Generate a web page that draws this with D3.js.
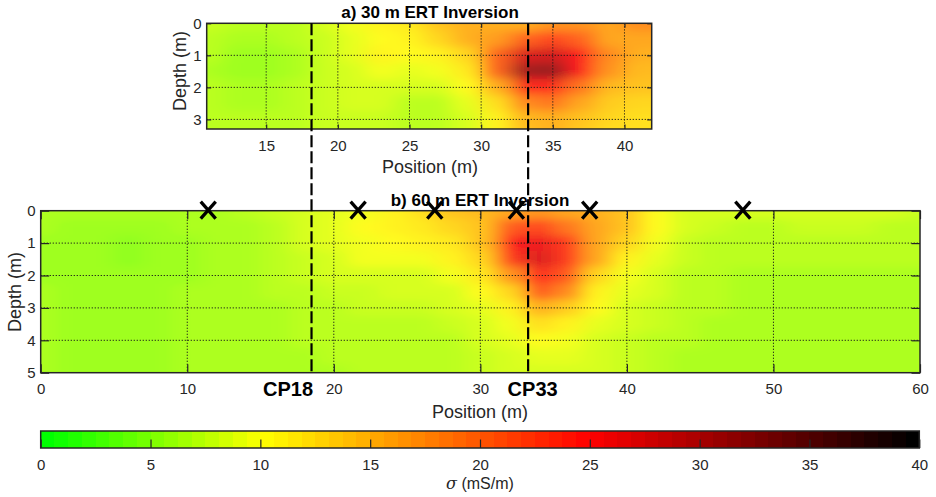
<!DOCTYPE html>
<html><head><meta charset="utf-8">
<script src="https://cdn.jsdelivr.net/npm/d3@7/dist/d3.min.js"></script>
<style>
body{margin:0;background:#fff}
text{font-family:"Liberation Sans",Arial,Helvetica,sans-serif}
</style>
</head><body>
<svg id="c" width="936" height="497"></svg>
<script>
// ---------------- DATA ----------------
// Panel a) 30 m ERT inversion: conductivity (mS/m) at nodes
const posNodesA = [11,13,15,17,19,21,23,25,27,29,31,33,35,37,39,41];
const depthNodesA = [0,0.5,1,1.5,2,2.5,3,3.5];
const sigmaA = [
  [7.5,7.2,7.0,7.3,8.0,9.5,10.5,11.5,14.0,15.5,15.0,15.5,17.0,17.0,16.0,18.0],
  [7.0,6.5,6.3,6.7,7.8,9.0,10.0,10.5,13.0,15.0,16.5,20.0,22.0,20.0,16.0,16.0],
  [6.8,6.0,5.8,6.5,7.8,9.0,10.5,10.0,11.0,13.0,20.0,27.0,28.0,25.0,17.5,15.0],
  [6.6,6.0,6.0,6.5,7.5,8.5,9.5,9.0,9.5,11.5,20.0,31.0,32.0,25.0,17.0,14.5],
  [6.8,6.3,6.3,6.7,7.5,8.0,8.5,8.0,8.0,10.0,15.0,24.0,24.0,19.0,14.5,14.0],
  [7.0,6.5,6.5,7.0,7.5,8.0,8.0,7.2,7.0,9.0,12.0,18.0,19.0,16.0,13.5,13.0],
  [7.0,6.7,6.7,7.0,7.5,7.8,7.5,6.8,6.8,8.3,10.5,14.5,15.5,14.0,12.5,12.0],
  [7.0,6.7,6.7,7.0,7.5,7.8,7.5,6.8,6.8,8.3,10.5,14.0,15.0,13.5,12.0,12.0]
];
// Panel b) 60 m ERT inversion
const posNodesB = [0,2,4,6,8,10,12,14,16,18,20,22,24,26,28,30,32,34,36,38,40,42,44,46,48,50,52,54,56,58,60];
const depthNodesB = [0,0.5,1,1.5,2,2.5,3,3.5,4,4.5,5];
const sigmaB = [
  [6.5,6.5,6.3,6.3,6.3,6.5,6.5,6.8,7.5,8.5,8.7,9.5,10.5,12,14,14.5,16,17,16,15,14,10,8.5,8,8,8,8,8.5,8.5,8,7.5],
  [6.3,6.0,5.8,5.8,6.0,6.2,6.3,6.5,7.3,8.3,9.0,10.0,10.5,11.5,13,14,21,22,19,16,14,10,8.0,7.5,7.3,7.3,7.5,7.5,7.5,7.3,7.0],
  [6.0,5.7,5.5,5.3,5.6,6.0,6.2,6.4,7.0,8.0,8.8,9.8,10.0,10.5,11.5,14,25,26,23,16,12.5,9.5,7.8,7.2,7.0,7.0,7.0,7.0,7.0,7.0,7.0],
  [6.0,5.6,5.4,5.3,5.5,6.0,6.2,6.4,6.9,7.8,8.5,9.5,9.5,9.5,10.5,13,23,27,23,16,11,9.0,7.5,7.0,6.8,6.8,6.8,6.8,6.8,6.8,6.8],
  [6.0,5.8,5.6,5.5,5.7,6.0,6.3,6.5,6.8,7.5,8.0,8.5,8.5,8.5,9.5,11.5,17,24,21,13,9.5,8.3,7.3,6.8,6.6,6.6,6.6,6.6,6.6,6.6,6.6],
  [6.1,5.9,5.8,5.7,5.8,6.1,6.3,6.5,6.7,7.2,7.6,7.9,8.0,8.0,8.5,10.0,12.5,21,18,11,9.0,8.0,7.2,6.8,6.6,6.5,6.5,6.5,6.5,6.5,6.5],
  [6.2,6.0,5.9,5.8,5.9,6.1,6.3,6.4,6.6,7.0,7.3,7.5,7.5,7.6,8.0,9.0,10.5,15,13.5,10,8.3,7.7,7.0,6.7,6.5,6.4,6.4,6.4,6.4,6.4,6.4],
  [6.2,6.0,5.9,5.9,6.0,6.1,6.3,6.4,6.5,6.8,7.0,7.2,7.2,7.3,7.5,8.3,9.5,12,10.5,9.0,8.0,7.5,6.9,6.6,6.4,6.3,6.3,6.3,6.3,6.3,6.3],
  [6.2,6.0,5.9,5.9,6.0,6.1,6.3,6.4,6.5,6.7,6.8,7.0,7.0,7.1,7.3,8.0,9.0,10,9.5,8.5,7.8,7.3,6.8,6.5,6.3,6.2,6.2,6.2,6.2,6.2,6.2],
  [6.2,6.0,5.9,5.9,6.0,6.1,6.3,6.4,6.5,6.6,6.7,6.8,6.8,6.9,7.0,7.7,8.5,9.0,8.8,8.2,7.5,7.0,6.6,6.4,6.2,6.1,6.1,6.1,6.1,6.1,6.1],
  [6.2,6.0,5.9,5.9,6.0,6.1,6.3,6.4,6.5,6.6,6.6,6.7,6.7,6.8,7.0,7.5,8.0,8.5,8.5,8.0,7.5,7.0,6.6,6.3,6.2,6.1,6.1,6.1,6.1,6.1,6.1]
];
const markerPositions = [11.43,21.66,26.89,32.46,37.46,47.91];
const checkpointLabels = ["CP18","CP33"];
const checkpointPositions = [18.48,33.26];
const ticksAx = [15,20,25,30,35,40];
const ticksAy = [0,1,2,3];
const ticksBx = [0,10,20,30,40,50,60];
const ticksBy = [0,1,2,3,4,5];
const colorTicks = [0,5,10,15,20,25,30,35,40];
const colorStops = [0,10,25,40];

// ---------------- SETUP ----------------
const svg = d3.select("#c");
const defs = svg.append("defs");
const cmap = d3.scaleLinear().domain(colorStops)
  .range(["#00ff00","#ffff00","#ff0000","#000000"]).clamp(true);
const nLevels = 64;
const quant = v => cmap(Math.round(Math.max(0,Math.min(40,v))/40*(nLevels-1))*40/(nLevels-1));
const INK = "#262626";
const fmt = d3.format("d");

const xA = d3.scaleLinear().domain([10.85,41.9]).range([206.7,651.7]);
const yA = d3.scaleLinear().domain([0,3.3]).range([23.3,129]);
const xB = d3.scaleLinear().domain([0,60]).range([40.7,920]);
const yB = d3.scaleLinear().domain([0,5]).range([210.7,372.7]);
const xC = d3.scaleLinear().domain([0,40]).range([40.7,919.3]);

function heat(id, xs, ys, xN, yN, grid, sd) {
  const [x0,x1] = xs.domain(), [y0,y1] = ys.domain();
  defs.append("clipPath").attr("id","clip"+id).append("rect")
    .attr("x",xs(x0)).attr("y",ys(y0)).attr("width",xs(x1)-xs(x0)).attr("height",ys(y1)-ys(y0));
  defs.append("filter").attr("id","blur"+id).attr("x","-20%").attr("y","-20%").attr("width","140%").attr("height","140%")
    .append("feGaussianBlur").attr("stdDeviation",sd);
  const cells = [];
  grid.forEach((row,j)=>row.forEach((v,i)=>{
    const l = i===0 ? x0-6 : (xN[i-1]+xN[i])/2;
    const r = i===xN.length-1 ? x1+6 : (xN[i]+xN[i+1])/2;
    const t = j===0 ? y0-1.5 : (yN[j-1]+yN[j])/2;
    const b = j===yN.length-1 ? y1+1.5 : (yN[j]+yN[j+1])/2;
    cells.push({l,r,t,b,v});
  }));
  svg.append("g").attr("clip-path",`url(#clip${id})`)
    .append("g").attr("filter",`url(#blur${id})`).attr("opacity",0.88)
    .selectAll("rect").data(cells).join("rect")
    .attr("x",d=>xs(d.l)).attr("y",d=>ys(d.t))
    .attr("width",d=>xs(d.r)-xs(d.l)+0.5).attr("height",d=>ys(d.b)-ys(d.t)+0.5)
    .attr("fill",d=>quant(d.v)).attr("shape-rendering","crispEdges");
}

function grid(xs, ys, gx, gy) {
  const g = svg.append("g").attr("stroke","#1a1a1a").attr("stroke-width",1).attr("stroke-dasharray","1.2 1.8").attr("fill","none");
  g.selectAll(".gx").data(gx).join("line").attr("x1",d=>xs(d)).attr("x2",d=>xs(d)).attr("y1",ys.range()[0]).attr("y2",ys.range()[1]);
  g.selectAll(".gy").data(gy).join("line").attr("y1",d=>ys(d)).attr("y2",d=>ys(d)).attr("x1",xs.range()[0]).attr("x2",xs.range()[1]);
}

function styleAxis(sel, showText) {
  sel.select(".domain").remove();
  sel.selectAll(".tick line").attr("stroke",INK).attr("stroke-width",1.2);
  sel.selectAll(".tick text").attr("fill",INK).attr("font-size",15)
    .attr("font-family","'Liberation Sans',Arial,sans-serif");
  if(!showText) sel.selectAll(".tick text").remove();
}

function axes(xs, ys, tx, ty, tlen) {
  const [xl,xr] = xs.range(), [yt,yb] = ys.range();
  styleAxis(svg.append("g").attr("transform",`translate(0,${yb})`)
    .call(d3.axisBottom(xs).tickValues(tx).tickFormat(fmt).tickSize(-tlen).tickPadding(11)), true);
  styleAxis(svg.append("g").attr("transform",`translate(0,${yt})`)
    .call(d3.axisTop(xs).tickValues(tx).tickSize(-tlen)), false);
  styleAxis(svg.append("g").attr("transform",`translate(${xl},0)`)
    .call(d3.axisLeft(ys).tickValues(ty).tickFormat(fmt).tickSize(-tlen).tickPadding(5)), true);
  styleAxis(svg.append("g").attr("transform",`translate(${xr},0)`)
    .call(d3.axisRight(ys).tickValues(ty).tickSize(-tlen)), false);
  svg.append("rect").attr("x",xl).attr("y",yt).attr("width",xr-xl).attr("height",yb-yt)
    .attr("fill","none").attr("stroke",INK).attr("stroke-width",1.5);
}

// ---------------- PANEL A ----------------
heat("A", xA, yA, posNodesA, depthNodesA, sigmaA, "10 5");
grid(xA, yA, ticksAx, [1,2,3]);
axes(xA, yA, ticksAx, ticksAy, 4.5);
svg.append("text").attr("x",430).attr("y",18.3).attr("text-anchor","middle")
  .attr("font-size",17).attr("font-weight","bold").text("a) 30 m ERT Inversion");
svg.append("text").attr("x",430).attr("y",173).attr("text-anchor","middle")
  .attr("font-size",18).attr("fill",INK).text("Position (m)");
svg.append("text").attr("transform","translate(185.5,71) rotate(-90)").attr("text-anchor","middle")
  .attr("font-size",18).attr("fill",INK).text("Depth (m)");

// ---------------- PANEL B ----------------
heat("B", xB, yB, posNodesB, depthNodesB, sigmaB, "10 4");
grid(xB, yB, [10,20,30,40,50], [1,2,3,4]);
axes(xB, yB, ticksBx, ticksBy, 8.5);
svg.append("text").attr("x",480).attr("y",205.5).attr("text-anchor","middle")
  .attr("font-size",17).attr("font-weight","bold").text("b) 60 m ERT Inversion");
svg.append("text").attr("x",480).attr("y",418).attr("text-anchor","middle")
  .attr("font-size",18).attr("fill",INK).text("Position (m)");
svg.append("text").attr("transform","translate(21,292) rotate(-90)").attr("text-anchor","middle")
  .attr("font-size",18).attr("fill",INK).text("Depth (m)");

// checkpoint dashed lines & labels
svg.append("g").selectAll("line").data(checkpointPositions).join("line")
  .attr("x1",d=>xB(d)).attr("x2",d=>xB(d)).attr("y1",yA(0)).attr("y2",yB(5))
  .attr("stroke","#000").attr("stroke-width",2.2).attr("stroke-dasharray","12 4");
svg.append("g").selectAll("text").data(checkpointLabels).join("text")
  .attr("x",(d,i)=> i===0 ? xB(checkpointPositions[i])+1.5 : xB(checkpointPositions[i])+4.5)
  .attr("y",396).attr("text-anchor",(d,i)=> i===0 ? "end" : "middle")
  .attr("font-size",20).attr("font-weight","bold").attr("fill","#000").text(d=>d);

// X markers
const mk = svg.append("g").attr("stroke","#000").attr("stroke-width",3.3).attr("fill","none");
mk.selectAll("path").data(markerPositions).join("path")
  .attr("d",d=>{const cx=xB(d), cy=yB(0)-0.5; return `M${cx-7.5},${cy-8.5}L${cx+7.5},${cy+8.5}M${cx-7.5},${cy+8.5}L${cx+7.5},${cy-8.5}`;});

// ---------------- COLORBAR ----------------
const cbTop = 431, cbBot = 448;
const levels = d3.range(nLevels);
svg.append("g").selectAll("rect").data(levels).join("rect")
  .attr("x",k=>xC(k*40/nLevels)).attr("y",cbTop)
  .attr("width",k=>xC((k+1)*40/nLevels)-xC(k*40/nLevels)+0.6).attr("height",cbBot-cbTop)
  .attr("fill",k=>cmap(k*40/(nLevels-1))).attr("shape-rendering","crispEdges");
styleAxis(svg.append("g").attr("transform",`translate(0,${cbBot})`)
  .call(d3.axisBottom(xC).tickValues(colorTicks).tickFormat(fmt).tickSize(-8.5).tickPadding(11)), true);
svg.append("rect").attr("x",xC(0)).attr("y",cbTop).attr("width",xC(40)-xC(0)).attr("height",cbBot-cbTop)
  .attr("fill","none").attr("stroke",INK).attr("stroke-width",1.5);
const lab = svg.append("text").attr("x",480).attr("y",489).attr("text-anchor","middle")
  .attr("font-size",16).attr("fill",INK);
lab.append("tspan").attr("font-style","italic").attr("font-family","'DejaVu Serif',serif").text("σ");
lab.append("tspan").text(" (mS/m)");
</script>
</body></html>
